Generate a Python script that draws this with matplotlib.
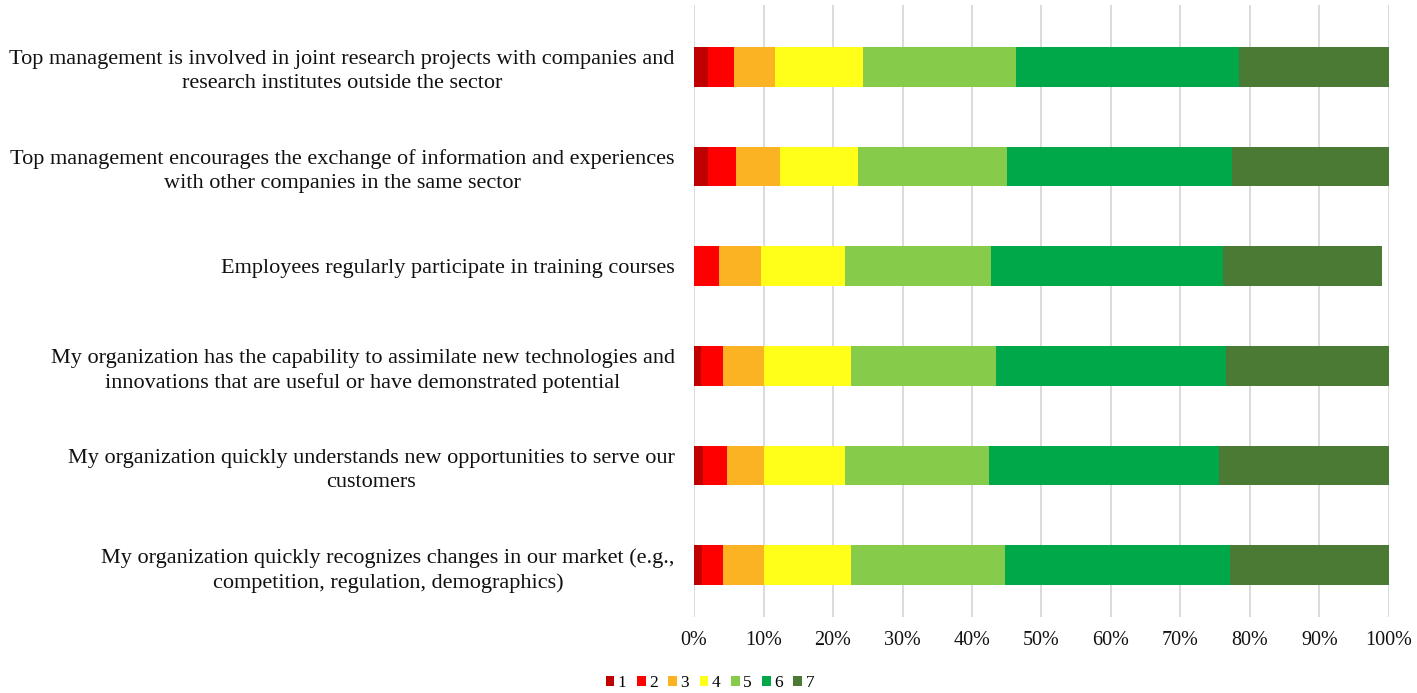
import numpy as np
import matplotlib
matplotlib.use("Agg")
import matplotlib.pyplot as plt
from matplotlib.ticker import PercentFormatter

plt.rcParams["font.family"] = ["Liberation Serif", "DejaVu Serif"]

# Survey items, top to bottom
items = [
    "Top management is involved in joint research projects with companies and\nresearch institutes outside the sector",
    "Top management encourages the exchange of information and experiences\nwith other companies in the same sector",
    "Employees regularly participate in training courses",
    "My organization has the capability to assimilate new technologies and\ninnovations that are useful or have demonstrated potential",
    "My organization quickly understands new opportunities to serve our\ncustomers",
    "My organization quickly recognizes changes in our market (e.g.,\ncompetition, regulation, demographics)",
]

# Share of answers (%) per Likert level 1..7, same order as items
level_1 = [2.0, 2.0, 0.0, 1.0, 1.3, 1.2]
level_2 = [3.8, 4.1, 3.6, 3.2, 3.5, 3.0]
level_3 = [5.8, 6.3, 6.0, 5.9, 5.3, 5.9]
level_4 = [12.7, 11.2, 12.1, 12.5, 11.6, 12.5]
level_5 = [22.0, 21.4, 21.0, 20.8, 20.7, 22.1]
level_6 = [32.1, 32.4, 33.4, 33.2, 33.2, 32.4]
level_7 = [21.6, 22.6, 22.9, 23.4, 24.4, 22.9]

levels = ["1", "2", "3", "4", "5", "6", "7"]
series = [level_1, level_2, level_3, level_4, level_5, level_6, level_7]
colors = ["#C00000", "#FF0000", "#FBB323", "#FFFF1A",
          "#86CB4A", "#00A84A", "#4A7A33"]

fig = plt.figure(figsize=(14.17, 6.93), dpi=100)
ax = fig.add_axes([0.4898, 0.1097, 0.4904, 0.8831])

y = np.arange(len(items))
left = np.zeros(len(items))
for name, vals, col in zip(levels, series, colors):
    vals = np.array(vals)
    ax.barh(y, vals, left=left, height=0.4, color=col, label=name, zorder=3)
    left += vals

ax.set_xlim(0, 100)
ax.set_ylim(5.52, -0.62)
ax.set_xticks(np.arange(0, 101, 10))
ax.xaxis.set_major_formatter(PercentFormatter(decimals=0))
ax.set_yticks(y)
ax.set_yticklabels(items, multialignment="center", linespacing=1.35,
                   fontsize=16, color="#111111")
ax.tick_params(axis="x", labelsize=14.5, colors="#111111", length=0, pad=10)
ax.tick_params(axis="y", length=0, pad=14)
ax.grid(axis="x", color="#d4d4d4", linewidth=1.2, zorder=0)
for s in ax.spines.values():
    s.set_visible(False)

fig.legend(loc="center", bbox_to_anchor=(0.501, 0.0144), ncol=7, frameon=False,
           fontsize=12.5, handlelength=0.5, handleheight=0.5, handletextpad=0.2,
           columnspacing=0.6)

fig.savefig("out.png", dpi=100)
